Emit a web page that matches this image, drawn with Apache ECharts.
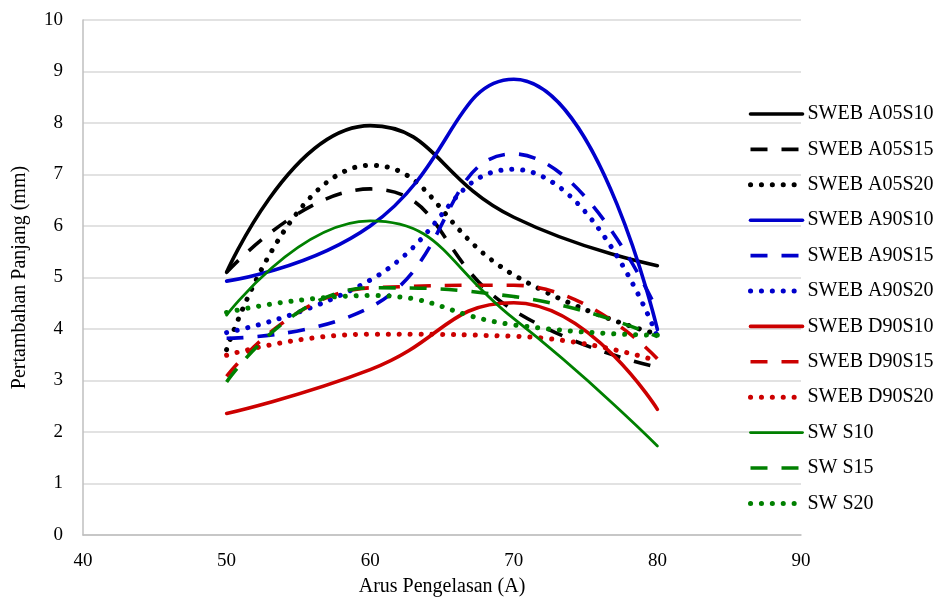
<!DOCTYPE html>
<html>
<head>
<meta charset="utf-8">
<script src="https://cdn.jsdelivr.net/npm/echarts@6/dist/echarts.min.js"></script>
<style>
html,body{margin:0;padding:0;background:#fff;}
#c{width:944px;height:597px;}
</style>
</head>
<body>
<div id="c"></div>
<script>
// Data
var current = [50, 60, 70, 80];
var seriesNames = ['SWEB A05S10','SWEB A05S15','SWEB A05S20','SWEB A90S10','SWEB A90S15','SWEB A90S20','SWEB D90S10','SWEB D90S15','SWEB D90S20','SW S10','SW S15','SW S20'];
var A05S10 = [5.10, 7.95, 6.17, 5.23];
var A05S15 = [5.10, 6.72, 4.36, 3.26];
var A05S20 = [3.60, 7.18, 5.05, 3.90];
var A90S10 = [4.93, 6.00, 8.85, 3.99];
var A90S15 = [3.82, 4.42, 7.40, 4.35];
var A90S20 = [3.93, 4.95, 7.10, 3.85];
var D90S10 = [2.36, 3.21, 4.51, 2.44];
var D90S15 = [3.08, 4.80, 4.85, 3.42];
var D90S20 = [3.49, 3.90, 3.86, 3.38];
var SWS10  = [4.27, 6.10, 4.20, 1.73];
var SWS15  = [2.97, 4.80, 4.63, 3.85];
var SWS20  = [4.32, 4.65, 4.08, 3.88];
var xTicks = [40, 50, 60, 70, 80, 90];
var yTicks = [0,1,2,3,4,5,6,7,8,9,10];

var values = [A05S10, A05S15, A05S20, A90S10, A90S15, A90S20, D90S10, D90S15, D90S20, SWS10, SWS15, SWS20];
var colors = ['#000000','#000000','#000000','#0000CC','#0000CC','#0000CC','#CC0000','#CC0000','#CC0000','#008000','#008000','#008000'];
var kinds = ['solid','dash','dot','solid','dash','dot','solid','dash','dot','solid','dash','dot'];

function lineStyleFor(i){
  var k = kinds[i];
  if (k === 'solid') return {color: colors[i], width: (i === 9 ? 2.8 : 3.6), type: 'solid', cap: 'round'};
  if (k === 'dash') return {color: colors[i], width: 3.6, type: [17, 14], cap: 'butt'};
  return {color: colors[i], width: 5, type: [0.1, 10.8], cap: 'round'};
}

var series = seriesNames.map(function(name, i){
  return {
    name: name,
    type: 'line',
    smooth: 0.5,
    symbol: 'none',
    data: current.map(function(x, j){ return [x, values[i][j]]; }),
    lineStyle: lineStyleFor(i),
    itemStyle: {color: colors[i]},
    emphasis: {disabled: true}
  };
});

var font = 'Liberation Serif, Times New Roman, serif';
var chart = echarts.init(document.getElementById('c'), null, {renderer: 'canvas'});
chart.setOption({
  animation: false,
  backgroundColor: '#ffffff',
  textStyle: {fontFamily: font},
  grid: {left: 83, right: 143, top: 20, bottom: 62, containLabel: false, outerBoundsMode: 'none'},
  xAxis: {
    type: 'value', min: xTicks[0], max: xTicks[xTicks.length-1], interval: 10,
    name: 'Arus Pengelasan (A)', nameLocation: 'middle', nameGap: 42,
    nameTextStyle: {fontFamily: font, fontSize: 20, color: '#000'},
    axisLine: {show: true, lineStyle: {color: '#bfbfbf', width: 1.5}},
    axisTick: {show: false},
    axisLabel: {fontFamily: font, fontSize: 19, color: '#000', margin: 17},
    splitLine: {show: false}
  },
  yAxis: {
    type: 'value', min: yTicks[0], max: yTicks[yTicks.length-1], interval: 1,
    name: 'Pertambahan Panjang (mm)', nameLocation: 'middle', nameGap: 53,
    nameTextStyle: {fontFamily: font, fontSize: 20, color: '#000'},
    axisLine: {show: true, lineStyle: {color: '#bfbfbf', width: 1.5}},
    axisTick: {show: false},
    axisLabel: {fontFamily: font, fontSize: 19, color: '#000', margin: 20},
    splitLine: {show: true, lineStyle: {color: '#d9d9d9', width: 1.5}}
  },
  legend: {
    orient: 'vertical', left: 743, top: 99,
    itemWidth: 52, itemHeight: 14, itemGap: 15.4,
    itemStyle: {opacity: 0},
    lineStyle: {width: 'inherit'},
    textStyle: {fontFamily: font, fontSize: 20, color: '#000'},
    data: seriesNames,
    selectedMode: false
  },
  series: series
});
</script>
</body>
</html>
